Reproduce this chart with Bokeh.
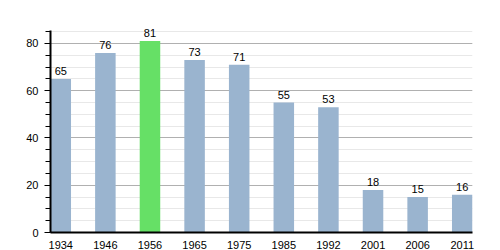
from bokeh.plotting import figure
from bokeh.models import ColumnDataSource, FixedTicker, SingleIntervalTicker, Range1d
from bokeh.core.properties import value
from bokeh.embed import file_html
from bokeh.resources import INLINE

years = ["1934", "1946", "1956", "1965", "1975", "1985", "1992", "2001", "2006", "2011"]
population = [65, 76, 81, 73, 71, 55, 53, 18, 15, 16]
highlight = "1956"

BLUE = "#9ab4cf"
GREEN = "#66e066"
xs = list(range(len(years)))
colors = [GREEN if y == highlight else BLUE for y in years]
labels = [str(v) for v in population]
src = ColumnDataSource(dict(x=xs, top=population, color=colors, label=labels))

p = figure(width=500, height=250, output_backend="svg", toolbar_location=None,
           x_range=Range1d(-0.23, 9.23), y_range=Range1d(0, 89.7),
           min_border_left=50, min_border_right=28, min_border_top=20, min_border_bottom=18)
p.frame_width = 422
p.frame_height = 212
p.outline_line_color = None
p.background_fill_color = "white"

p.vbar(x="x", top="top", width=0.46, bottom=0, fill_color="color", line_color=None, source=src)
p.text(x="x", y="top", text="label", source=src, text_align="center", text_baseline="bottom",
       y_offset=-4, text_font=value("Liberation Sans"), text_font_size="11px", text_color="#000000")

p.xgrid.grid_line_color = None
p.ygrid.grid_line_color = "#b0b0b0"
p.ygrid.minor_grid_line_color = "#e8e8e8"
p.ygrid.bounds = (0, 85.5)
p.yaxis.ticker = SingleIntervalTicker(interval=20, num_minor_ticks=4)
p.ygrid.ticker = p.yaxis.ticker
p.yaxis.bounds = (0, 85.5)

p.xaxis.ticker = FixedTicker(ticks=xs)
p.xaxis.major_label_overrides = {i: y for i, y in enumerate(years)}
p.xaxis.major_tick_line_color = None
p.xaxis.minor_tick_line_color = None
p.xaxis.axis_line_color = "black"
p.xaxis.axis_line_width = 2
p.xaxis.major_label_standoff = 2

for ax in (p.xaxis, p.yaxis):
    ax.major_label_text_font = "Liberation Sans"
    ax.major_label_text_font_size = "11px"
    ax.major_label_text_color = "#000000"

p.yaxis.axis_line_color = "black"
p.yaxis.axis_line_width = 2
p.yaxis.major_tick_out = 6
p.yaxis.major_tick_in = 0
p.yaxis.minor_tick_out = 5
p.yaxis.minor_tick_in = 0
p.yaxis.major_tick_line_color = "black"
p.yaxis.minor_tick_line_color = "black"
p.yaxis.major_label_standoff = 6

open("out.html", "w").write(file_html(p, INLINE))
